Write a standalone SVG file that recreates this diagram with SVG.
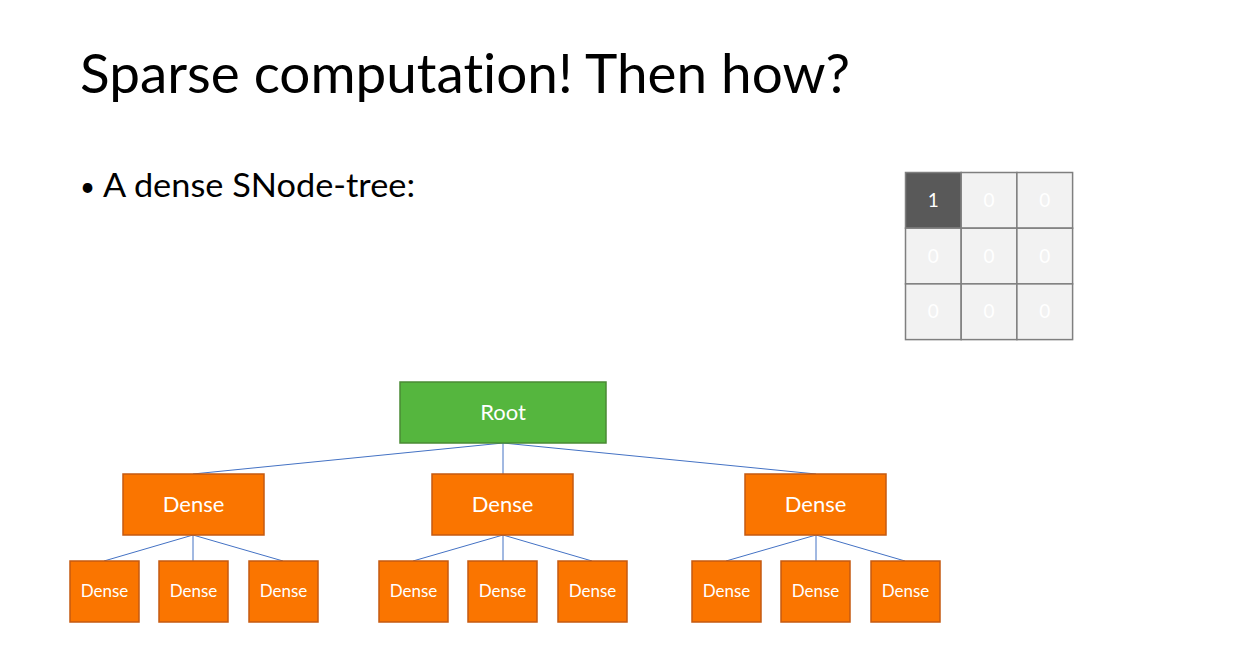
<svg xmlns="http://www.w3.org/2000/svg" width="1248" height="648" viewBox="0 0 1248 648">
<style>
text{font-family:Lato,"Open Sans","Liberation Sans",sans-serif;font-variant-ligatures:none}
.title{font-size:54px;fill:#000}
.bullet{font-size:33px;fill:#000}
.dot{font-size:26px;fill:#000}
.cell{fill:#f2f2f2;stroke:#7f7f7f;stroke-width:1.5}
.cellon{fill:#595959;stroke:#7f7f7f;stroke-width:1.5}
.ct{font-size:19px;fill:#fff;text-anchor:middle}
.root{fill:#55b63e;stroke:#4a8a35;stroke-width:1.5}
.dense{fill:#fa7500;stroke:#c55a11;stroke-width:1.5}
.lbl{fill:#fff;text-anchor:middle;font-size:22px}
.lbls{fill:#fff;text-anchor:middle;font-size:17px}
.edge{stroke:#4472c4;stroke-width:1;fill:none}
</style>
<rect width="1248" height="648" fill="#fff"/>
<text class="title" x="80" y="93" textLength="770" lengthAdjust="spacingAndGlyphs">Sparse computation! Then how?</text>
<text class="dot" x="80" y="196">•</text>
<text class="bullet" x="103" y="197" textLength="312" lengthAdjust="spacingAndGlyphs">A dense SNode-tree:</text>
<g id="grid">
<rect class="cellon" x="905.5" y="172.5" width="55.7" height="55.7"/>
<rect class="cell" x="961.2" y="172.5" width="55.7" height="55.7"/>
<rect class="cell" x="1016.9" y="172.5" width="55.7" height="55.7"/>
<rect class="cell" x="905.5" y="228.2" width="55.7" height="55.7"/>
<rect class="cell" x="961.2" y="228.2" width="55.7" height="55.7"/>
<rect class="cell" x="1016.9" y="228.2" width="55.7" height="55.7"/>
<rect class="cell" x="905.5" y="283.9" width="55.7" height="55.7"/>
<rect class="cell" x="961.2" y="283.9" width="55.7" height="55.7"/>
<rect class="cell" x="1016.9" y="283.9" width="55.7" height="55.7"/>
<text class="ct" x="933.3" y="207">1</text>
<text class="ct" x="989" y="207">0</text>
<text class="ct" x="1044.7" y="207">0</text>
<text class="ct" x="933.3" y="262.7">0</text>
<text class="ct" x="989" y="262.7">0</text>
<text class="ct" x="1044.7" y="262.7">0</text>
<text class="ct" x="933.3" y="318.4">0</text>
<text class="ct" x="989" y="318.4">0</text>
<text class="ct" x="1044.7" y="318.4">0</text>
</g>
<g id="connectors">
<line class="edge" x1="503" y1="443" x2="193" y2="474"/>
<line class="edge" x1="503" y1="443" x2="503" y2="474"/>
<line class="edge" x1="503" y1="443" x2="816" y2="474"/>
<line class="edge" x1="193" y1="535" x2="104" y2="561"/>
<line class="edge" x1="193" y1="535" x2="193" y2="561"/>
<line class="edge" x1="193" y1="535" x2="283" y2="561"/>
<line class="edge" x1="503" y1="535" x2="413" y2="561"/>
<line class="edge" x1="503" y1="535" x2="503" y2="561"/>
<line class="edge" x1="503" y1="535" x2="592" y2="561"/>
<line class="edge" x1="816" y1="535" x2="726" y2="561"/>
<line class="edge" x1="816" y1="535" x2="816" y2="561"/>
<line class="edge" x1="816" y1="535" x2="905" y2="561"/>
</g>
<g id="root"><rect class="root" x="400" y="382" width="206" height="61"/><text class="lbl" x="503" y="420">Root</text></g>
<g id="d1"><rect class="dense" x="123" y="474" width="141" height="61"/><text class="lbl" x="193.5" y="512">Dense</text></g>
<g id="d2"><rect class="dense" x="432" y="474" width="141" height="61"/><text class="lbl" x="502.5" y="512">Dense</text></g>
<g id="d3"><rect class="dense" x="745" y="474" width="141" height="61"/><text class="lbl" x="815.5" y="512">Dense</text></g>
<g id="d11"><rect class="dense" x="70" y="561" width="69" height="61"/><text class="lbls" x="104.5" y="597">Dense</text></g>
<g id="d12"><rect class="dense" x="159" y="561" width="69" height="61"/><text class="lbls" x="193.5" y="597">Dense</text></g>
<g id="d13"><rect class="dense" x="249" y="561" width="69" height="61"/><text class="lbls" x="283.5" y="597">Dense</text></g>
<g id="d21"><rect class="dense" x="379" y="561" width="69" height="61"/><text class="lbls" x="413.5" y="597">Dense</text></g>
<g id="d22"><rect class="dense" x="468" y="561" width="69" height="61"/><text class="lbls" x="502.5" y="597">Dense</text></g>
<g id="d23"><rect class="dense" x="558" y="561" width="69" height="61"/><text class="lbls" x="592.5" y="597">Dense</text></g>
<g id="d31"><rect class="dense" x="692" y="561" width="69" height="61"/><text class="lbls" x="726.5" y="597">Dense</text></g>
<g id="d32"><rect class="dense" x="781" y="561" width="69" height="61"/><text class="lbls" x="815.5" y="597">Dense</text></g>
<g id="d33"><rect class="dense" x="871" y="561" width="69" height="61"/><text class="lbls" x="905.5" y="597">Dense</text></g>
</svg>
